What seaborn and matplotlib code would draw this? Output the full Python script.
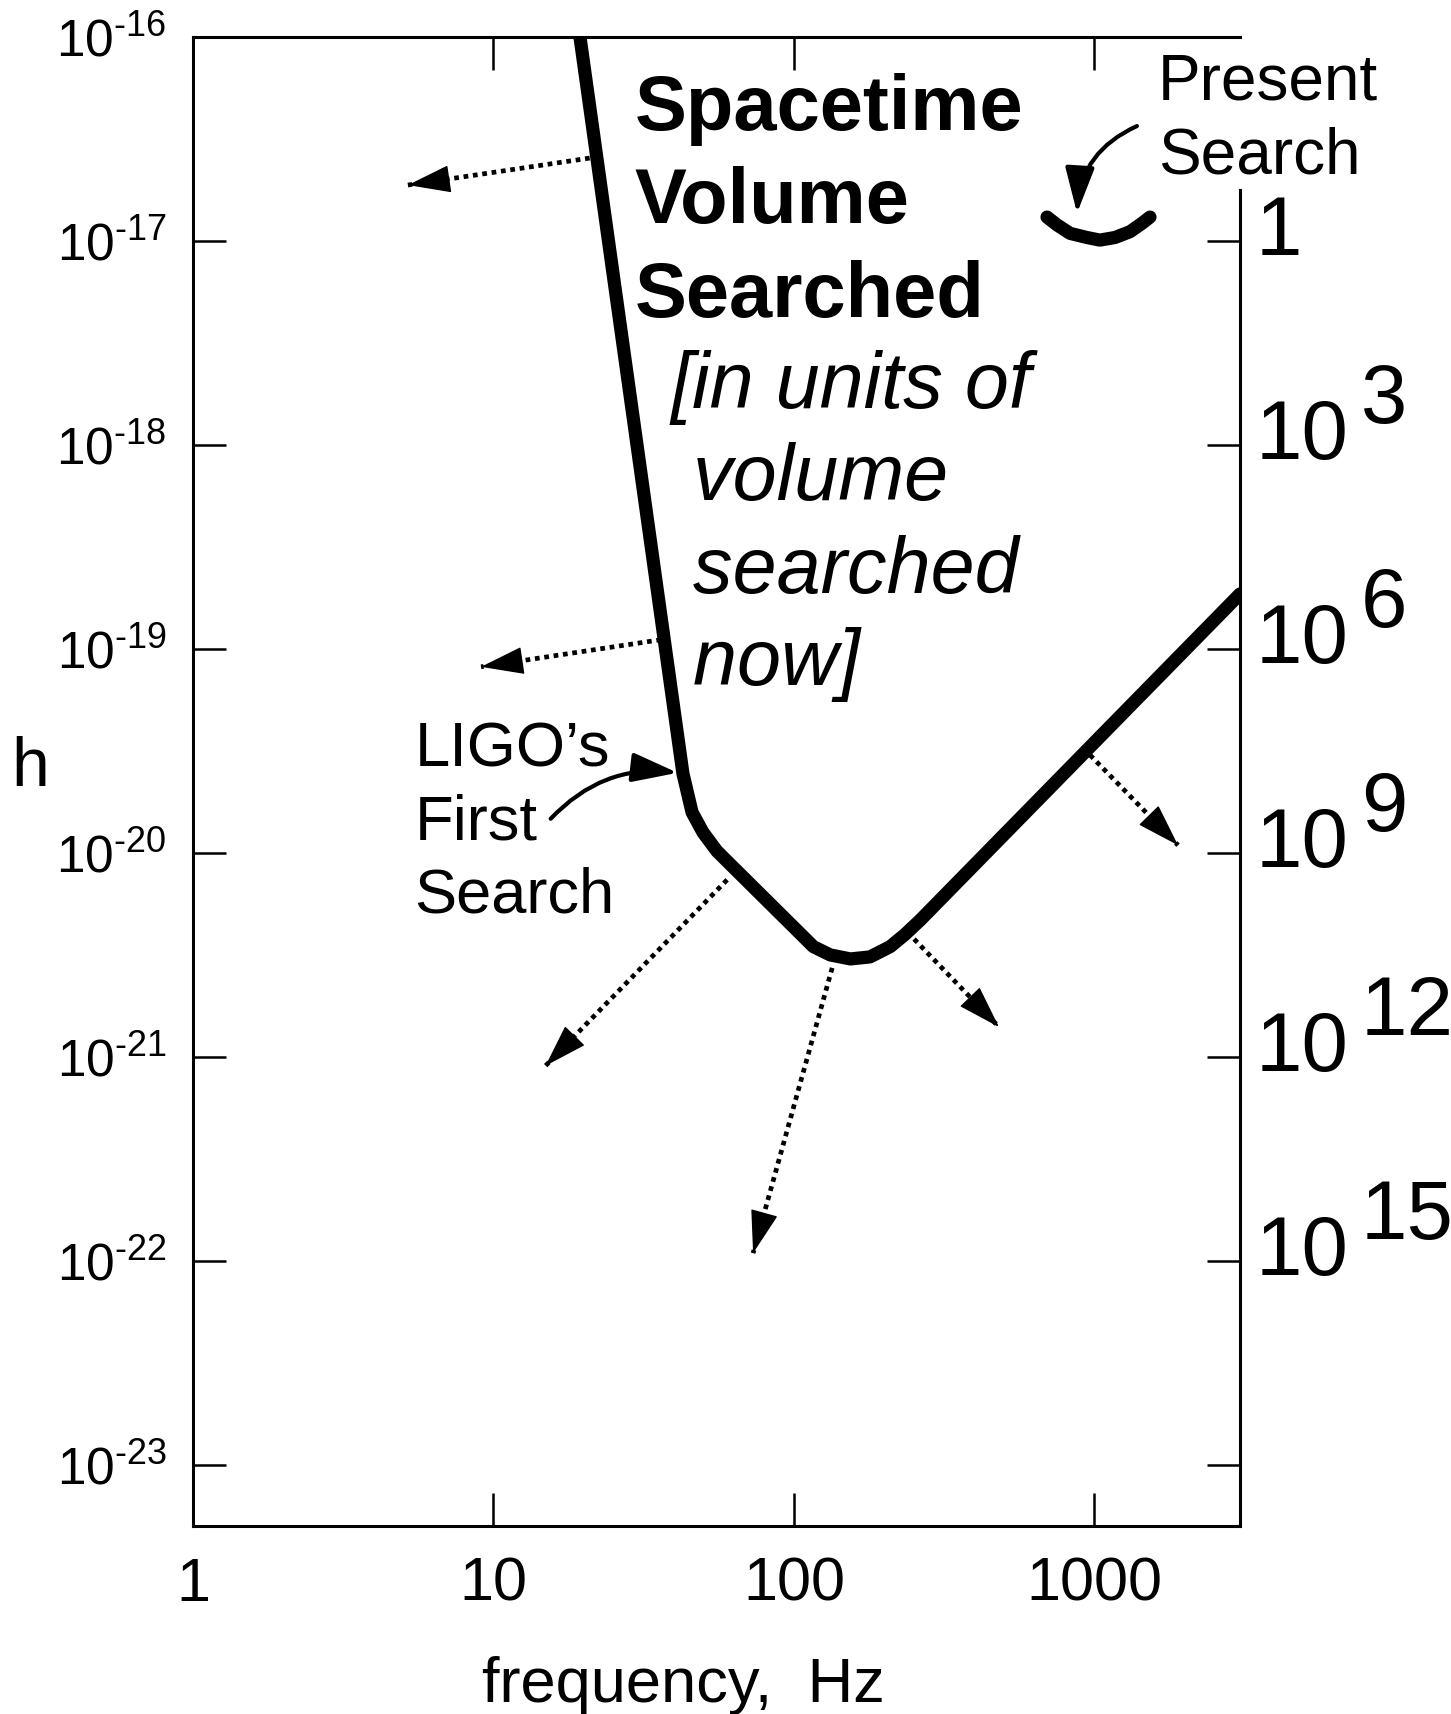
import numpy as np
import matplotlib
matplotlib.use('Agg')
import matplotlib.pyplot as plt
import seaborn as sns

# sensitivity curve of LIGO's first search
freq_hz = [19.4, 42.7, 45.8, 49.8, 55.4, 116, 132, 154, 179, 209, 234, 263, 3050]
strain = [1.0e-16, 2.45e-20, 1.58e-20, 1.26e-20, 1.02e-20, 3.47e-21, 3.16e-21,
          3.02e-21, 3.09e-21, 3.47e-21, 3.98e-21, 4.68e-21, 1.86e-19]

# present search: the short arc near 1 kHz
present_freq = [695, 750, 829, 944, 1042, 1169, 1312, 1438, 1530]
present_strain = [1.31e-17, 1.20e-17, 1.09e-17, 1.04e-17, 1.01e-17,
                  1.04e-17, 1.11e-17, 1.22e-17, 1.31e-17]

# dotted arrows, from the curve outwards
arrow_start_freq = [20.9, 36.1, 59.9, 134, 251, 966]
arrow_start_strain = [2.55e-17, 1.11e-19, 7.38e-21, 2.73e-21, 3.78e-21, 3.02e-20]
arrow_end_freq = [5.19, 9.09, 14.9, 73.1, 481, 1897]
arrow_end_strain = [1.88e-17, 8.17e-20, 9.04e-22, 1.09e-22, 1.40e-21, 1.09e-20]

freq_ticks = [1, 10, 100, 1000]
freq_labels = ['1', '10', '100', '1000']
h_exponents = [-16, -17, -18, -19, -20, -21, -22, -23]
volume_exponents = [0, 3, 6, 9, 12, 15, 18]
volume_base = ['1', '10', '10', '10', '10', '10', '']
volume_sup = ['', '3', '6', '9', '12', '15', '']

sns.set_style('white')
plt.rcParams['font.family'] = ['Liberation Sans', 'DejaVu Sans']
plt.rcParams['mathtext.fontset'] = 'custom'
plt.rcParams['mathtext.rm'] = 'Liberation Sans'
plt.rcParams['mathtext.it'] = 'Liberation Sans:italic'
plt.rcParams['mathtext.bf'] = 'Liberation Sans:bold'
for key in ['text.color', 'axes.labelcolor', 'xtick.color', 'ytick.color',
            'axes.edgecolor']:
    plt.rcParams[key] = 'black'

fig = plt.figure(figsize=(14.51, 17.14), dpi=100)
ax = fig.add_axes([0.1330, 0.1097, 0.7216, 0.8687])
ax.set_xscale('log')
ax.set_yscale('log')
ax.set_xlim(1, 3050)
ax.set_ylim(10 ** -23.3, 1e-16)

sns.lineplot(x=freq_hz, y=strain, sort=False, estimator=None, color='black',
             linewidth=9.5, solid_joinstyle='round', ax=ax)
sns.lineplot(x=present_freq, y=present_strain, sort=False, estimator=None,
             color='black', linewidth=9.5, solid_joinstyle='round', ax=ax)

# dotted shafts, then a solid head at the far end of each
head = dict(arrowstyle='-|>,head_length=1.4,head_width=0.45',
            mutation_scale=20, lw=1, color='black', shrinkA=0, shrinkB=0)
for x0, y0, x1, y1 in zip(arrow_start_freq, arrow_start_strain,
                          arrow_end_freq, arrow_end_strain):
    ax.plot([x0, x1], [y0, y1], color='black', lw=3.4,
            linestyle=(0, (1.0, 1.0)), dash_capstyle='butt')
    back_x = 10 ** (np.log10(x1) + 0.04 * (np.log10(x0) - np.log10(x1)))
    back_y = 10 ** (np.log10(y1) + 0.04 * (np.log10(y0) - np.log10(y1)))
    ax.annotate('', xy=(x1, y1), xytext=(back_x, back_y), arrowprops=head)

# ticks and spines
ax.set_xticks(freq_ticks, labels=freq_labels)
ax.set_yticks([10.0 ** e for e in h_exponents],
              labels=[f'$10^{{\\text{{-}}{-e}}}$' for e in h_exponents])
ax.minorticks_off()
ax.tick_params(axis='x', which='major', direction='in', length=24, width=1.8,
               labelsize=44, pad=22, top=True, bottom=True)
ax.tick_params(axis='y', which='major', direction='in', length=24, width=1.8,
               labelsize=37, pad=19, left=True, right=False)
for side in ['left', 'top', 'bottom', 'right']:
    ax.spines[side].set_linewidth(2.2)
ax.spines['right'].set_bounds(10 ** -23.3, 10 ** -16.75)


# right axis: spacetime volume in units of the present one
def to_volume(h):
    return np.power(np.clip(np.asarray(h, dtype=float), 1e-60, None) / 1e-17, -3.0)


def to_strain(v):
    return 1e-17 * np.power(np.clip(np.asarray(v, dtype=float), 1e-60, None), -1.0 / 3.0)


sec = ax.secondary_yaxis('right', functions=(to_volume, to_strain))
sec.spines['right'].set_visible(False)
sec.set_yticks([10.0 ** e for e in volume_exponents], labels=[''] * len(volume_exponents))
sec.minorticks_off()
sec.tick_params(axis='y', which='major', direction='in', length=24, width=1.8)

# volume labels: big "10" with a full-size raised exponent
for e, base, sup in zip(volume_exponents, volume_base, volume_sup):
    h_at = to_strain(10.0 ** e)
    if base:
        ax.annotate(base, xy=(1, h_at), xycoords=('axes fraction', 'data'),
                    xytext=(11, -10), textcoords='offset points', fontsize=60,
                    ha='left', va='baseline')
    if sup:
        ax.annotate(sup, xy=(1, h_at), xycoords=('axes fraction', 'data'),
                    xytext=(87, 16), textcoords='offset points', fontsize=60,
                    ha='left', va='baseline')

ax.set_xlabel('frequency,  Hz', fontsize=45.5)
ax.xaxis.set_label_coords(0.468, -0.087)
ax.set_ylabel('h', fontsize=49, rotation=0, ha='center', va='center')
ax.yaxis.set_label_coords(-0.156, 0.509)

# annotations
ax.text(29.5, 10 ** -16.174, 'Spacetime\nVolume\nSearched', fontsize=56,
        fontweight='bold', ha='left', va='top', linespacing=1.36)
ax.text(38.9, 10 ** -17.534, '[in units of\n volume\n searched\n now]',
        fontsize=57, fontstyle='italic', ha='left', va='top', linespacing=1.3)
ax.text(5.46, 10 ** -19.353, 'LIGO\u2019s\nFirst\nSearch', fontsize=45.5,
        ha='left', va='top', linespacing=1.3)
ax.text(1622, 10 ** -16.074, 'Present\nSearch', fontsize=46,
        ha='left', va='top', linespacing=1.3)

ax.annotate('', xy=(41.0, 2.47e-20), xytext=(15.5, 1.47e-20),
            arrowprops=dict(arrowstyle='-|>,head_length=1.4,head_width=0.45',
                            mutation_scale=20, lw=3, color='black',
                            connectionstyle='arc3,rad=-0.25',
                            shrinkA=0, shrinkB=0))
ax.annotate('', xy=(875, 1.37e-17), xytext=(1384, 3.66e-17),
            arrowprops=dict(arrowstyle='-|>,head_length=1.4,head_width=0.45',
                            mutation_scale=20, lw=3, color='black',
                            connectionstyle='arc3,rad=0.3',
                            shrinkA=0, shrinkB=0))

fig.savefig('out.png', dpi=100, facecolor='white')
